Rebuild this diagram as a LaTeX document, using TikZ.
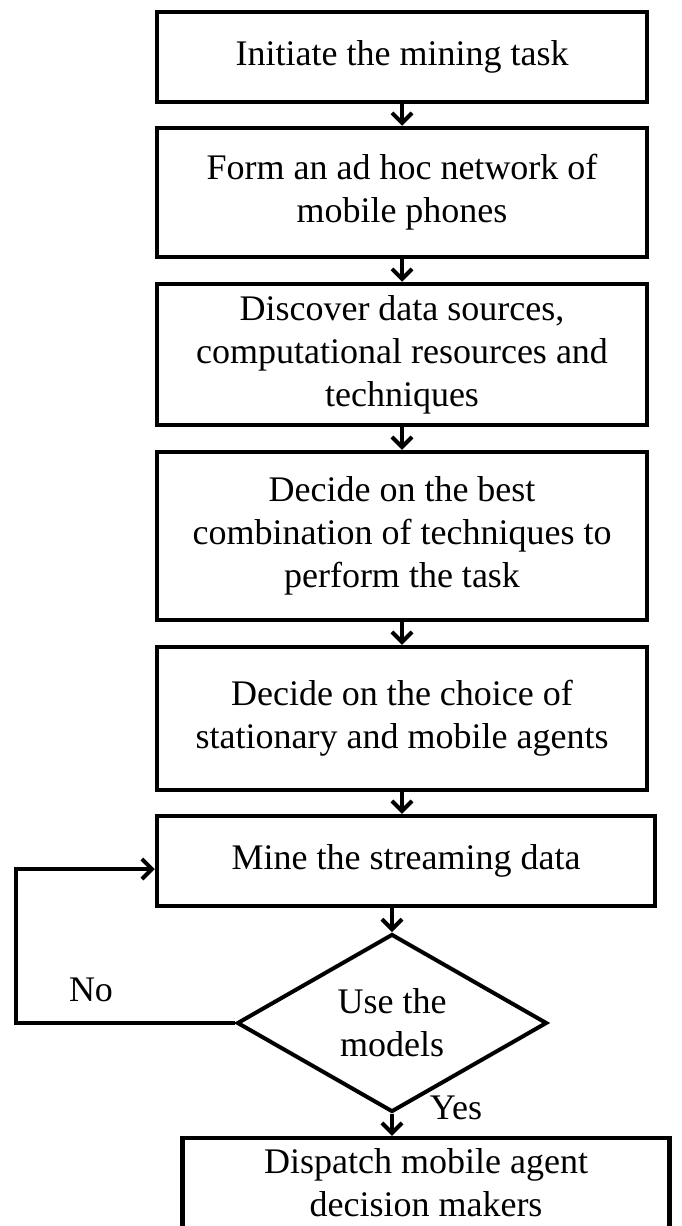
\documentclass[tikz,border=0pt]{standalone}
\usepackage{fontspec}
\setmainfont{Liberation Serif}
\usetikzlibrary{shapes.geometric,arrows.meta}

\begin{document}
\begin{tikzpicture}[x=1pt,y=-1pt,
  txt/.style={font=\fontsize{36}{43}\selectfont, align=center},
  box/.style={txt, draw, rectangle, line width=4.5pt, inner sep=0pt},
  decision/.style={draw, diamond, line width=4pt, inner sep=0pt,
                   minimum width=310pt, minimum height=178pt},
  arr/.style={line width=4pt,
              -{Straight Barb[length=10pt,width=20pt,line width=4pt]}}
]
\useasboundingbox (0,0) rectangle (681,1226);
\clip (0,0) rectangle (681,1226);

% process steps
\node[box, minimum width=490pt, minimum height=90pt]  (b1) at (402,57)
  {Initiate the mining task};
\node[box, minimum width=490pt, minimum height=129pt] (b2) at (402,192.5)
  {Form an ad hoc network of\\mobile phones};
\node[box, minimum width=490pt, minimum height=141pt] (b3) at (402,354.5)
  {Discover data sources,\\computational resources and\\techniques};
\node[box, minimum width=490pt, minimum height=168pt] (b4) at (402,536)
  {Decide on the best\\combination of techniques to\\perform the task};
\node[box, minimum width=490pt, minimum height=143pt] (b5) at (402,718.5)
  {Decide on the choice of\\stationary and mobile agents};
\node[box, minimum width=498pt, minimum height=90pt]  (b6) at (406,861)
  {Mine the streaming data};

% decision
\node[decision] (d) at (392,1023) {};
\node[txt] (dt) at (d.center) {Use the\\models};

% final step: the box runs on below the lower edge
\node[box, minimum width=487pt, minimum height=98pt] (b7) at (426,1187) {};
\node[txt] (b7t) at (426,1183) {Dispatch mobile agent\\decision makers};

% flow
\draw[arr] (b1.south) -- (b1.south |- b2.north);
\draw[arr] (b2.south) -- (b2.south |- b3.north);
\draw[arr] (b3.south) -- (b3.south |- b4.north);
\draw[arr] (b4.south) -- (b4.south |- b5.north);
\draw[arr] (b5.south) -- (b5.south |- b6.north);
\draw[arr] (d.north |- b6.south) -- (d.north);
\draw[arr] (d.south) -- (d.south |- b7.north);

% loop back when the models are not used
\coordinate (loop) at (16,869);
\draw[arr] (d.west) -| (loop) -- (loop -| b6.west);

% branch labels
\node[txt] (no)  at (91,990)   {No};
\node[txt] (yes) at (456,1108) {Yes};
\end{tikzpicture}
\end{document}
